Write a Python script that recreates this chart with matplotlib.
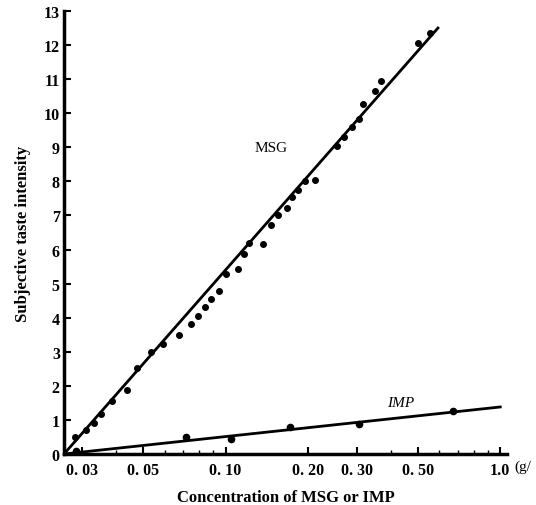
import numpy as np
import matplotlib.pyplot as plt

plt.rcParams['font.family'] = ['Liberation Serif', 'DejaVu Serif']

# MSG data points (concentration g/dl, intensity)
msg_conc = [0.0283, 0.0310, 0.0332, 0.0352, 0.0386, 0.0438, 0.0476, 0.0536, 0.0593,
            0.0678, 0.0750, 0.0795, 0.0843, 0.0887, 0.0948, 0.1007, 0.111, 0.117,
            0.122, 0.137, 0.146, 0.155, 0.167, 0.175, 0.184, 0.195, 0.211,
            0.254, 0.269, 0.288, 0.305, 0.316, 0.349, 0.367, 0.501, 0.553]
msg_int = [0.50, 0.71, 0.91, 1.18, 1.56, 1.88, 2.53, 3.0, 3.24,
           3.5, 3.82, 4.06, 4.32, 4.56, 4.79, 5.29, 5.44, 5.88,
           6.18, 6.15, 6.71, 7.0, 7.21, 7.53, 7.76, 8.0, 8.03,
           9.03, 9.29, 9.59, 9.82, 10.26, 10.65, 10.94, 12.06, 12.35]

# IMP data points
imp_conc = [0.0285, 0.0719, 0.105, 0.171, 0.305, 0.671]
imp_int = [0.09, 0.5, 0.44, 0.79, 0.88, 1.26]

# fitted lines (end points)
msg_fit_x = [0.0258, 0.593]
msg_fit_y = [0.0, 12.5]
imp_fit_x = [0.0258, 1.0]
imp_fit_y = [0.0, 1.38]

xticks = [0.03, 0.05, 0.10, 0.20, 0.30, 0.50, 1.0]
xticklabels = ['0. 03', '0. 05', '0. 10', '0. 20', '0. 30', '0. 50', '1.0']
yticks = list(range(0, 14))

fig = plt.figure(figsize=(5.36, 5.06), dpi=100)
ax = fig.add_axes([0.1194, 0.1008, 0.8265, 0.8755])

ax.plot(msg_fit_x, msg_fit_y, color='black', lw=2)
ax.plot(imp_fit_x, imp_fit_y, color='black', lw=2)
ax.plot(msg_conc, msg_int, 'o', color='black', ms=4)
ax.plot(imp_conc, imp_int, 'o', color='black', ms=4.5)

ax.set_xscale('log')
ax.set_xlim(0.0258, 1.058)
ax.set_ylim(0, 13)

ax.set_xticks(xticks)
ax.set_xticklabels(xticklabels)
ax.set_yticks(yticks)
ax.tick_params(axis='both', which='major', direction='in', length=5, width=1.5,
               labelsize=11.5)
ax.tick_params(axis='x', which='minor', direction='in', length=3, width=1)
ax.tick_params(axis='x', pad=6)
ax.tick_params(axis='y', pad=3)
for lab in ax.get_xticklabels() + ax.get_yticklabels():
    lab.set_fontweight('bold')

for s in ['top', 'right']:
    ax.spines[s].set_visible(False)
for s in ['left', 'bottom']:
    ax.spines[s].set_linewidth(2.5)

fig.text(514 / 536, 1 - 467 / 506, '(g/', fontsize=11, va='center', ha='left')

ax.text(0.147, 9.0, 'MSG', fontsize=11, ha='center', va='center')
ax.text(0.434, 1.5, 'IMP', fontsize=11, ha='center', va='center', style='italic')

ax.set_xlabel('Concentration of MSG or IMP', fontsize=12, fontweight='bold', labelpad=8)
ax.set_ylabel('Subjective taste intensity', fontsize=12, fontweight='bold', labelpad=9)

plt.savefig('out.png')
